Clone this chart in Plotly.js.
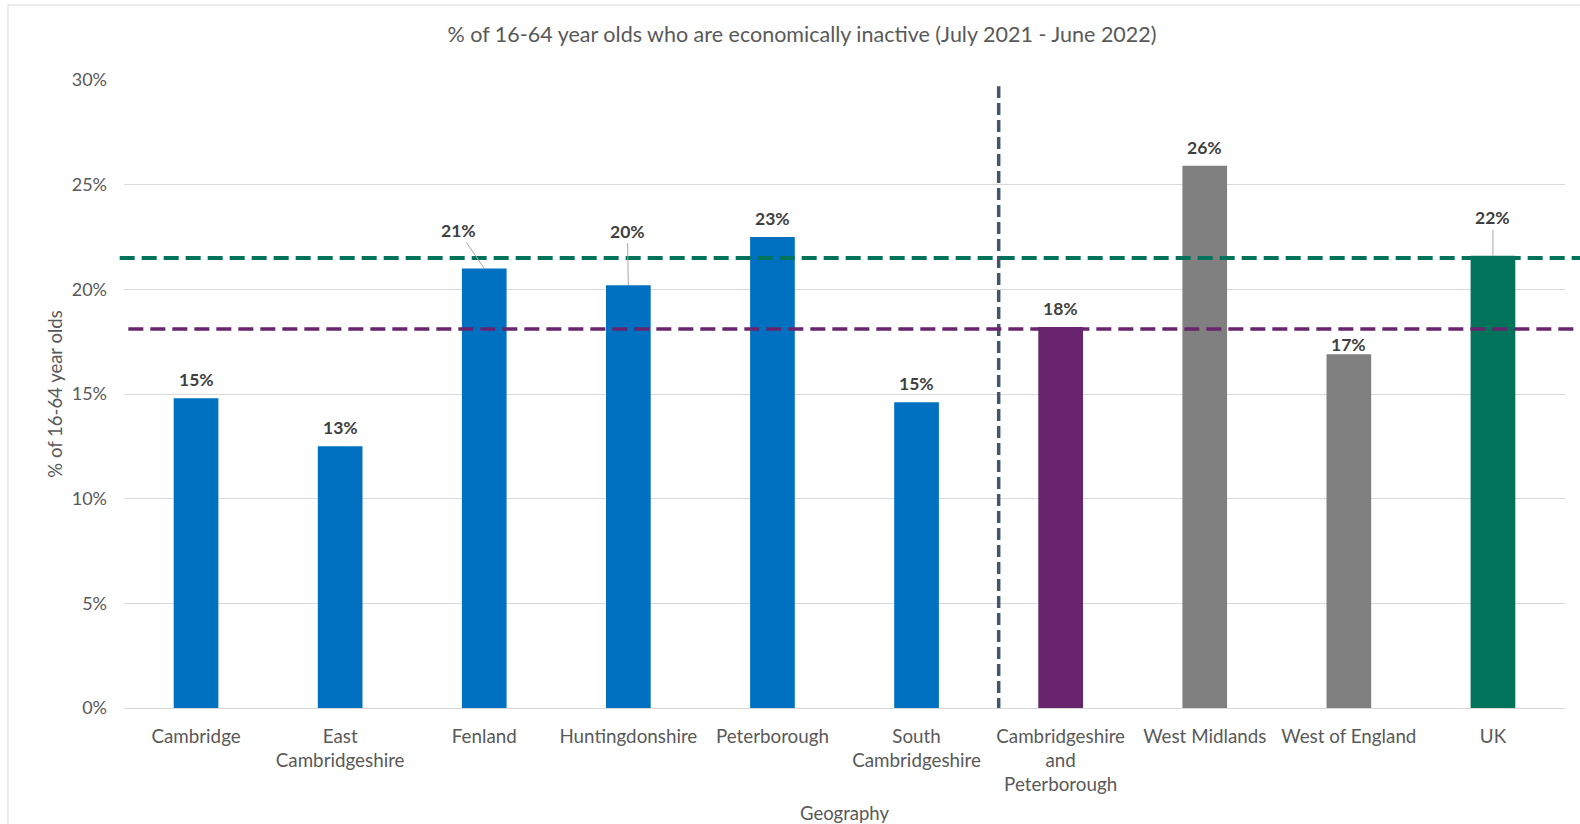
<!DOCTYPE html>
<html><head><meta charset="utf-8">
<script src="https://cdn.plot.ly/plotly-3.0.1.min.js"></script>
<style>html,body{margin:0;padding:0;background:#fff}#chart{width:1580px;height:824px}</style>
</head><body><div id="chart"></div>
<script>
const categories = ["Cambridge","East Cambridgeshire","Fenland","Huntingdonshire","Peterborough","South Cambridgeshire","Cambridgeshire and Peterborough","West Midlands","West of England","UK"];
const tickLabels = ["Cambridge","East<br>Cambridgeshire","Fenland","Huntingdonshire","Peterborough","South<br>Cambridgeshire","Cambridgeshire<br>and<br>Peterborough","West Midlands","West of England","UK"];
const inactiveRate = [14.8,12.5,21.0,20.2,22.5,14.6,18.2,25.9,16.9,21.6];
const dataLabels = ["15%","13%","21%","20%","23%","15%","18%","26%","17%","22%"];
const ukReference = 21.5;
const cpReference = 18.1;
const yTickVals = [0,5,10,15,20,25,30];
const yTickText = ["0%","5%","10%","15%","20%","25%","30%"];

const barColors = ["#0070C0","#0070C0","#0070C0","#0070C0","#0070C0","#0070C0","#68246D","#808080","#808080","#00735A"];
const FONT = "Lato, 'Open Sans', sans-serif";

const trace = {
  type: "bar",
  x: categories,
  y: inactiveRate,
  marker: {color: barColors, line: {width: 0}},
  hoverinfo: "x+y"
};

// leader-line offsets (pixels) for labels that were moved in the original
const leader = {2: [-26, -38], 3: [-1, -54], 9: [0, -38]};
const shiftOverride = {8: -3};
const annotations = categories.map((c, i) => {
  const base = {
    x: c, y: inactiveRate[i], text: "<b>" + dataLabels[i] + "</b>",
    font: {family: FONT, size: 17.5, color: "#404040"}
  };
  if (leader[i]) {
    return Object.assign(base, {
      showarrow: true, arrowhead: 0, arrowwidth: 1, arrowcolor: "#a6a6a6",
      ax: leader[i][0], ay: leader[i][1], standoff: 0, startstandoff: 0
    });
  }
  return Object.assign(base, {showarrow: false, yanchor: "bottom",
    yshift: (i in shiftOverride) ? shiftOverride[i] : 6});
});

const layout = {
  width: 1580, height: 824,
  margin: {l: 124, r: 15, t: 80, b: 116},
  paper_bgcolor: "#ffffff", plot_bgcolor: "#ffffff",
  font: {family: FONT, color: "#595959", size: 16},
  showlegend: false,
  bargap: 0.69,
  title: {
    text: "% of 16-64 year olds who are economically inactive (July 2021 - June 2022)",
    font: {family: FONT, size: 21.5, color: "#595959"},
    xref: "container", yref: "container", x: 0.5076, y: 0.9587, xanchor: "center", yanchor: "middle"
  },
  xaxis: {
    type: "category",
    tickvals: categories, ticktext: tickLabels,
    showgrid: false, showline: true, linecolor: "#d9d9d9", linewidth: 1,
    ticks: "", ticklabelstandoff: 11,
    tickfont: {family: FONT, size: 18.8, color: "#595959"},
    title: {text: "Geography", font: {family: FONT, size: 18.5, color: "#595959"}, standoff: 12},
    range: [-0.5, 9.5], fixedrange: true
  },
  yaxis: {
    range: [0, 30], tickvals: yTickVals, ticktext: yTickText,
    showgrid: true, gridcolor: "#d9d9d9", gridwidth: 1,
    zeroline: false, showline: false, ticks: "", ticklabelstandoff: 16,
    tickfont: {family: FONT, size: 18, color: "#595959"},
    title: {text: "% of 16-64 year olds", font: {family: FONT, size: 18.5, color: "#595959"}, standoff: 4},
    fixedrange: true
  },
  annotations: annotations,
  shapes: [
    {type: "rect", xref: "paper", yref: "paper", x0: -0.0805, x1: 1.05, y0: -0.3, y1: 1.1194,
     line: {color: "#d9d9d9", width: 1}, fillcolor: "rgba(0,0,0,0)", layer: "below"},
    {type: "line", xref: "x", yref: "y", x0: 5.57, x1: 5.57, y0: -0.1, y1: 29.7,
     line: {color: "#44546A", width: 3.5, dash: "12px,5px"}, layer: "above"},
    {type: "line", xref: "paper", yref: "y", x0: -0.003, x1: 1.02, y0: ukReference, y1: ukReference,
     line: {color: "#00735A", width: 4, dash: "15px,7px"}, layer: "above"},
    {type: "line", xref: "paper", yref: "y", x0: 0.003, x1: 1.02, y0: cpReference, y1: cpReference,
     line: {color: "#68246D", width: 3.5, dash: "15px,7px"}, layer: "above"}
  ]
};

Plotly.newPlot("chart", [trace], layout, {displayModeBar: false, staticPlot: true});
</script>
</body></html>
